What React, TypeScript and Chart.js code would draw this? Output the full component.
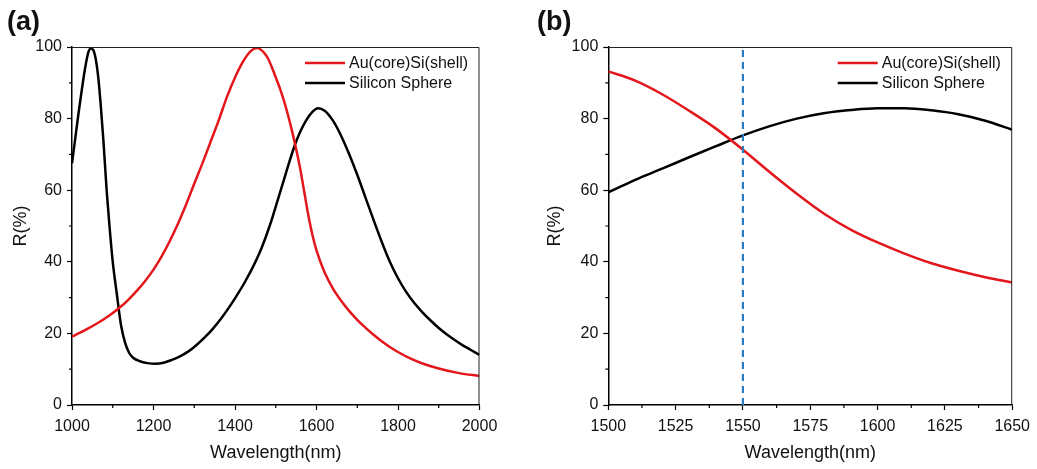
import React, { useEffect, useRef } from 'react';
import { Chart, registerables } from 'chart.js';

Chart.register(...registerables);

const FONT = "'Liberation Sans', Arial, Helvetica, sans-serif";

// ---------- Panel (a) data ----------
const wavelengthRedA = [1000, 1020, 1040, 1060, 1080, 1100, 1120, 1140, 1160, 1180, 1200, 1220, 1240, 1260, 1280, 1300, 1320, 1340, 1360, 1380, 1400, 1420, 1440, 1455, 1470, 1480, 1490, 1500, 1510, 1520, 1530, 1540, 1550, 1560, 1570, 1580, 1590, 1600, 1620, 1640, 1660, 1680, 1700, 1720, 1740, 1760, 1780, 1800, 1830, 1860, 1900, 1950, 2000];
const reflectRedA = [19.1, 20.2, 21.4, 22.7, 24.1, 25.7, 27.5, 29.6, 32.0, 34.7, 37.8, 41.5, 45.8, 50.6, 56.0, 61.8, 67.5, 73.5, 79.5, 86.0, 91.5, 96.0, 99.0, 99.7, 98.6, 97.0, 94.5, 91.5, 88.5, 85.0, 81.0, 76.5, 71.5, 66.0, 59.5, 53.0, 47.5, 43.2, 37.0, 32.6, 29.2, 26.3, 23.8, 21.6, 19.6, 17.8, 16.2, 14.8, 13.0, 11.6, 10.2, 8.9, 8.1];

const wavelengthBlackA = [1000, 1008, 1016, 1024, 1032, 1040, 1046, 1052, 1058, 1064, 1070, 1077, 1085, 1092, 1100, 1110, 1120, 1130, 1140, 1150, 1165, 1185, 1205, 1225, 1245, 1265, 1285, 1305, 1325, 1345, 1365, 1385, 1405, 1425, 1445, 1465, 1485, 1505, 1525, 1545, 1560, 1575, 1590, 1604, 1620, 1640, 1660, 1680, 1700, 1720, 1740, 1760, 1780, 1800, 1820, 1840, 1860, 1880, 1900, 1920, 1940, 1960, 1980, 2000];
const reflectBlackA = [67.5, 74.5, 81.5, 88.0, 94.0, 98.5, 99.6, 99.2, 96.8, 92.0, 84.5, 74.0, 60.0, 50.0, 40.0, 31.0, 22.5, 17.5, 14.6, 13.2, 12.3, 11.7, 11.5, 11.8, 12.6, 13.6, 14.9, 16.7, 18.8, 21.2, 24.0, 27.2, 30.7, 34.5, 38.8, 43.8, 50.0, 57.3, 64.8, 72.0, 76.3, 79.6, 81.9, 82.9, 82.2, 79.5, 75.3, 70.1, 64.3, 58.0, 51.7, 45.6, 40.0, 35.4, 31.6, 28.5, 25.9, 23.6, 21.5, 19.7, 18.1, 16.6, 15.3, 14.0];

// ---------- Panel (b) data ----------
const wavelengthB = [1500, 1510, 1520, 1530, 1540, 1550, 1560, 1570, 1580, 1590, 1600, 1610, 1620, 1630, 1640, 1650];
const reflectRedB = [93.2, 90.6, 86.8, 82.2, 77.2, 71.3, 65.0, 59.0, 53.5, 49.0, 45.4, 42.3, 39.6, 37.5, 35.7, 34.2];
const reflectBlackB = [59.4, 62.9, 66.0, 69.2, 72.3, 75.3, 77.9, 80.0, 81.5, 82.4, 82.9, 82.9, 82.3, 81.2, 79.4, 76.9];
const markerWavelengthB = [1550, 1550];
const markerReflectB = [0, 100];

// ---------- Axes / labels ----------
const seriesLabels = ['Au(core)Si(shell)', 'Silicon Sphere'];
const panelLabels = ['(a)', '(b)'];
const xTitle = 'Wavelength(nm)';
const yTitle = 'R(%)';
const yRange = [0, 100];
const yStep = 20;
const minorTicksY = [10, 30, 50, 70, 90];
const xRangeA = [1000, 2000];
const xStepA = 200;
const minorTicksXA = [1100, 1300, 1500, 1700, 1900];
const xRangeB = [1500, 1650];
const xStepB = 25;
const minorTicksXB = [1512.5, 1537.5, 1562.5, 1587.5, 1612.5, 1637.5];

const RED = '#e3161c';
const BLACK = '#000000';
const BLUE = '#2b7bbf';

const zip = (xs: number[], ys: number[]) => xs.map((x, i) => ({ x, y: ys[i] }));

function makeDecor(minorX: number[], minorY: number[]) {
  return {
    id: 'decor',
    afterDraw(chart: any) {
      const { ctx, chartArea: ca, scales } = chart;
      const xs = scales.x;
      const ys = scales.y;
      ctx.save();
      // frame top & right
      ctx.strokeStyle = '#222';
      ctx.lineWidth = 1;
      ctx.beginPath();
      ctx.moveTo(ca.left, ca.top + 0.5);
      ctx.lineTo(ca.right - 0.5, ca.top + 0.5);
      ctx.lineTo(ca.right - 0.5, ca.bottom);
      ctx.stroke();
      // minor ticks
      ctx.strokeStyle = '#000';
      ctx.lineWidth = 1.2;
      ctx.beginPath();
      for (const v of minorX) {
        const px = xs.getPixelForValue(v);
        ctx.moveTo(px, ca.bottom);
        ctx.lineTo(px, ca.bottom + 3);
      }
      for (const v of minorY) {
        const py = ys.getPixelForValue(v);
        ctx.moveTo(ca.left, py);
        ctx.lineTo(ca.left - 3, py);
      }
      ctx.stroke();
      // legend
      const items = chart.data.datasets.filter((d: any) => d.label);
      const x0 = ca.right - 174.5;
      let y0 = ca.top + 16;
      ctx.font = `16px ${FONT}`;
      ctx.textBaseline = 'middle';
      ctx.textAlign = 'left';
      for (const d of items) {
        ctx.strokeStyle = d.borderColor;
        ctx.lineWidth = 2.5;
        ctx.beginPath();
        ctx.moveTo(x0, y0);
        ctx.lineTo(x0 + 40, y0);
        ctx.stroke();
        ctx.fillStyle = '#111';
        ctx.fillText(d.label, x0 + 44, y0 + 1);
        y0 += 20;
      }
      ctx.restore();
    },
  };
}

function buildOptions(xRange: number[], xStep: number, yAxisWidth: number, rightPad: number, yTitlePad: number) {
  const tickFont = { family: FONT, size: 16 };
  const titleFont = { family: FONT, size: 18 };
  const plain = (v: any) => String(v);
  return {
    responsive: false,
    animation: false as const,
    events: [] as any[],
    layout: { padding: { left: 0, right: rightPad, top: 47, bottom: 0 } },
    plugins: { legend: { display: false }, tooltip: { enabled: false }, title: { display: false } },
    elements: { point: { radius: 0 } },
    scales: {
      x: {
        type: 'linear' as const,
        min: xRange[0],
        max: xRange[1],
        afterFit: (s: any) => { s.height = 64; },
        ticks: { stepSize: xStep, color: '#111', font: tickFont, padding: 7, maxRotation: 0, autoSkip: false, callback: plain },
        grid: { display: true, drawOnChartArea: false, drawTicks: true, tickLength: 5, tickColor: '#000', tickWidth: 1.2 },
        border: { display: true, color: '#000', width: 1.5 },
        title: { display: true, text: xTitle, color: '#111', font: titleFont, padding: { top: 0, bottom: 5 } },
      },
      y: {
        type: 'linear' as const,
        min: yRange[0],
        max: yRange[1],
        afterFit: (s: any) => { s.width = yAxisWidth; },
        ticks: { stepSize: yStep, color: '#111', font: tickFont, padding: 5, callback: plain },
        grid: { display: true, drawOnChartArea: false, drawTicks: true, tickLength: 5, tickColor: '#000', tickWidth: 1.2 },
        border: { display: true, color: '#000', width: 1.5 },
        title: { display: true, text: yTitle, color: '#111', font: titleFont, padding: { top: yTitlePad, bottom: 0 } },
      },
    },
  };
}

function lineDs(label: string | undefined, data: any[], color: string, extra: any = {}) {
  return {
    label,
    data,
    borderColor: color,
    backgroundColor: color,
    borderWidth: 2.5,
    pointRadius: 0,
    fill: false,
    cubicInterpolationMode: 'monotone' as const,
    ...extra,
  };
}

function PanelA() {
  const ref = useRef<HTMLCanvasElement | null>(null);
  useEffect(() => {
    if (!ref.current) return;
    const chart = new Chart(ref.current, {
      type: 'line',
      data: {
        datasets: [
          lineDs(seriesLabels[0], zip(wavelengthRedA, reflectRedA), RED),
          lineDs(seriesLabels[1], zip(wavelengthBlackA, reflectBlackA), BLACK),
        ],
      },
      options: buildOptions(xRangeA, xStepA, 72, 40.5, 10.5) as any,
      plugins: [makeDecor(minorTicksXA, minorTicksY)],
    });
    return () => chart.destroy();
  }, []);
  return (
    <canvas
      ref={ref}
      width={520}
      height={469}
      style={{ position: 'absolute', left: 0, top: 0, width: 520, height: 469, display: 'block' }}
    />
  );
}

function PanelB() {
  const ref = useRef<HTMLCanvasElement | null>(null);
  useEffect(() => {
    if (!ref.current) return;
    const chart = new Chart(ref.current, {
      type: 'line',
      data: {
        datasets: [
          lineDs(undefined, zip(markerWavelengthB, markerReflectB), BLUE, { borderDash: [7, 5], borderWidth: 2.2, cubicInterpolationMode: 'default', tension: 0 }),
          lineDs(seriesLabels[0], zip(wavelengthB, reflectRedB), RED),
          lineDs(seriesLabels[1], zip(wavelengthB, reflectBlackB), BLACK),
        ],
      },
      options: buildOptions(xRangeB, xStepB, 88.3, 22, 24.5) as any,
      plugins: [makeDecor(minorTicksXB, minorTicksY)],
    });
    return () => chart.destroy();
  }, []);
  return (
    <canvas
      ref={ref}
      width={517}
      height={469}
      style={{ position: 'absolute', left: 520, top: 0, width: 517, height: 469, display: 'block' }}
    />
  );
}

const panelLabelStyle: React.CSSProperties = {
  position: 'absolute',
  fontFamily: FONT,
  fontWeight: 'bold',
  fontSize: 27,
  lineHeight: '27px',
  color: '#111',
  whiteSpace: 'nowrap',
};

export default function App() {
  return (
    <div style={{ position: 'absolute', left: 0, top: 0, width: 1037, height: 469, background: '#fff', overflow: 'hidden' }}>
      <PanelA />
      <PanelB />
      <div style={{ ...panelLabelStyle, left: 7, top: 8 }}>{panelLabels[0]}</div>
      <div style={{ ...panelLabelStyle, left: 537, top: 8 }}>{panelLabels[1]}</div>
    </div>
  );
}
